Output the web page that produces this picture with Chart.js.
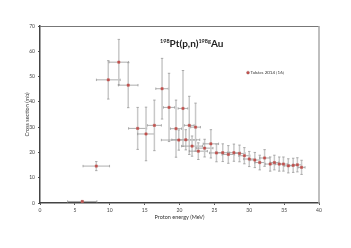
<!DOCTYPE html>
<html>
<head>
<meta charset="utf-8">
<script src="https://cdn.jsdelivr.net/npm/chart.js@4/dist/chart.umd.min.js"></script>
<style>
  body { margin: 0; background: #fff; }
  #wrap { width: 351px; height: 248px; }
</style>
</head>
<body>
<div id="wrap"><canvas id="chart"></canvas></div>
<script>
// proton energy (MeV), cross section (mb), and their uncertainties
const energy = [6.06, 8.07, 9.79, 11.3, 12.65, 14.0, 15.2, 16.4, 17.5, 18.5, 19.5, 19.9, 20.5, 20.9, 21.4, 21.8, 22.3, 22.7, 23.6, 24.5, 25.3, 26.2, 27.0, 27.8, 28.6, 29.3, 30.0, 30.8, 31.5, 32.2, 33.0, 33.6, 34.3, 34.9, 35.6, 36.3, 36.9, 37.5];
const crossSection = [0.6, 14.6, 48.7, 55.7, 46.6, 29.5, 27.3, 30.7, 45.2, 37.8, 29.4, 24.9, 37.4, 25.0, 30.7, 22.5, 30.0, 20.5, 21.7, 23.4, 19.8, 19.9, 19.2, 19.9, 19.6, 18.7, 17.4, 17.0, 16.0, 17.8, 15.4, 16.0, 15.4, 15.4, 14.7, 14.9, 15.1, 14.1];
const energyErr = [2.1, 1.9, 1.7, 1.4, 1.4, 1.3, 1.2, 1.0, 0.9, 0.8, 0.8, 2.5, 0.7, 2.0, 0.7, 1.5, 0.7, 1.3, 1.2, 1.1, 1.0, 1.0, 0.9, 0.9, 0.8, 0.8, 0.8, 0.7, 0.7, 0.7, 0.7, 0.6, 0.6, 0.6, 0.6, 0.6, 0.6, 0.5];
const csErr = [0.3, 1.8, 7.6, 9.0, 8.9, 8.3, 10.6, 10.0, 12.0, 13.5, 11.3, 4.0, 15.0, 4.0, 11.5, 4.0, 9.5, 3.3, 3.5, 5.6, 3.5, 3.5, 3.5, 3.4, 3.3, 3.2, 3.0, 3.0, 2.9, 3.3, 2.8, 2.9, 2.8, 2.8, 2.8, 2.8, 2.8, 2.8];
const xTicks = [0, 5, 10, 15, 20, 25, 30, 35, 40];
const yTicks = [0, 10, 20, 30, 40, 50, 60, 70];
const seriesLabel = 'Takács 2014 [16]';

const FONT = 'Lato, "Open Sans", sans-serif';
const points = energy.map((e, i) => ({ x: e, y: crossSection[i] }));

// error bars, placed through the chart's own scales
const errorBars = {
  id: 'errorBars',
  beforeDatasetsDraw(chart) {
    const { ctx, scales: { x, y } } = chart;
    ctx.save();
    energy.forEach((e, i) => {
      const px = x.getPixelForValue(e);
      const py = y.getPixelForValue(crossSection[i]);
      const top = y.getPixelForValue(crossSection[i] + csErr[i]);
      const bot = y.getPixelForValue(Math.max(0, crossSection[i] - csErr[i]));
      const lft = x.getPixelForValue(e - energyErr[i]);
      const rgt = x.getPixelForValue(e + energyErr[i]);
      ctx.strokeStyle = '#c8c8c8';
      ctx.lineWidth = 1.5;
      ctx.beginPath();
      ctx.moveTo(px, top); ctx.lineTo(px, bot);
      ctx.stroke();
      ctx.strokeStyle = '#999';
      ctx.lineWidth = 0.8;
      ctx.beginPath();
      ctx.moveTo(px - 1.2, top); ctx.lineTo(px + 1.2, top);
      ctx.moveTo(px - 1.2, bot); ctx.lineTo(px + 1.2, bot);
      ctx.moveTo(lft, py); ctx.lineTo(rgt, py);
      ctx.moveTo(lft, py - 1.2); ctx.lineTo(lft, py + 1.2);
      ctx.moveTo(rgt, py - 1.2); ctx.lineTo(rgt, py + 1.2);
      ctx.stroke();
    });
    ctx.restore();
  },
  afterDraw(chart) {
    const { ctx, chartArea: a } = chart;
    ctx.save();
    // top and right frame
    ctx.strokeStyle = '#777';
    ctx.lineWidth = 1;
    ctx.beginPath();
    ctx.moveTo(a.left, a.top + 0.5); ctx.lineTo(a.right, a.top + 0.5);
    ctx.stroke();
    ctx.strokeStyle = '#aaa';
    ctx.lineWidth = 1.5;
    ctx.beginPath();
    ctx.moveTo(a.right, a.top); ctx.lineTo(a.right, a.bottom);
    ctx.stroke();

    // title with superscripts
    const parts = [['198', 5.5, -4], ['Pt(p,n)', 10, 0], ['198g', 5.5, -4], ['Au', 10, 0]];
    let tx = 160;
    const ty = 47;
    ctx.fillStyle = '#222';
    ctx.textBaseline = 'alphabetic';
    parts.forEach(([t, s, dy]) => {
      ctx.font = 'bold ' + s + 'px ' + FONT;
      ctx.fillText(t, tx, ty + dy);
      tx += ctx.measureText(t).width;
    });

    // legend
    const lx = 248, ly = 72.7;
    ctx.strokeStyle = '#999';
    ctx.lineWidth = 0.8;
    ctx.beginPath();
    ctx.moveTo(lx - 2, ly); ctx.lineTo(lx + 2, ly);
    ctx.moveTo(lx, ly - 2); ctx.lineTo(lx, ly + 2);
    ctx.stroke();
    ctx.fillStyle = '#c0504d';
    ctx.fillRect(lx - 1.3, ly - 1.3, 2.6, 2.6);
    ctx.fillStyle = '#333';
    ctx.font = '4.5px ' + FONT;
    ctx.textBaseline = 'middle';
    ctx.fillText(seriesLabel, lx + 2.5, ly);
    ctx.restore();
  }
};

new Chart(document.getElementById('chart'), {
  type: 'scatter',
  data: {
    datasets: [{
      label: seriesLabel,
      data: points,
      pointStyle: 'rect',
      pointRadius: 1.6,
      backgroundColor: '#c0504d',
      borderColor: '#c0504d',
      borderWidth: 0.5
    }]
  },
  options: {
    responsive: true,
    maintainAspectRatio: false,
    animation: false,
    layout: { padding: { top: 26, right: 32, left: 0, bottom: 0 } },
    plugins: { legend: { display: false }, tooltip: { enabled: false } },
    scales: {
      x: {
        type: 'linear', min: 0, max: 40,
        afterFit: s => { s.height = 45; },
        afterBuildTicks: s => { s.ticks = xTicks.map(v => ({ value: v })); },
        ticks: { color: '#444', font: { size: 5, family: FONT }, padding: 2 },
        grid: { drawOnChartArea: false, drawTicks: true, tickLength: 2, color: '#555' },
        border: { color: '#444', width: 1.5 },
        title: { display: true, text: 'Proton energy (MeV)', color: '#333', font: { size: 5.5, family: FONT }, padding: { top: 2, bottom: 27 } }
      },
      y: {
        type: 'linear', min: 0, max: 70,
        afterFit: s => { s.width = 40; },
        afterBuildTicks: s => { s.ticks = yTicks.map(v => ({ value: v })); },
        ticks: { color: '#444', font: { size: 5, family: FONT }, padding: 3 },
        grid: { drawOnChartArea: false, drawTicks: true, tickLength: 2, color: '#555' },
        border: { color: '#444', width: 1.5 },
        title: { display: true, text: 'Cross section (mb)', color: '#333', font: { size: 5.5, family: FONT }, padding: { top: 24, bottom: 0 } }
      }
    }
  },
  plugins: [errorBars]
});
</script>
</body>
</html>
